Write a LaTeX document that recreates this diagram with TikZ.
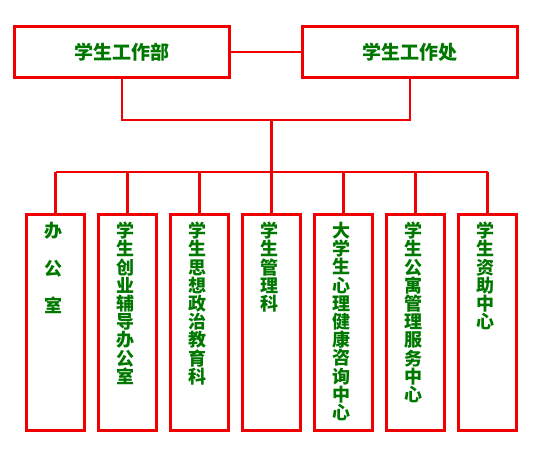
\documentclass[tikz,border=0pt]{standalone}
\usepackage{fontspec}
\newfontfamily\cjk{Noto Sans CJK SC}
\usetikzlibrary{positioning}
\definecolor{deptgreen}{RGB}{0,120,0}
\definecolor{linkred}{RGB}{240,0,0}

\begin{document}
\begin{tikzpicture}[x=1pt,y=-1pt,
  node distance=14pt,
  head/.style={draw=linkred,line width=3pt,outer sep=0pt,minimum width=215pt,minimum height=51pt,
    font=\cjk\bfseries\fontsize{19}{19}\selectfont,text=deptgreen},
  unit/.style={draw=linkred,line width=3pt,outer sep=0pt,minimum width=58pt,minimum height=216pt},
  vlbl/.style={anchor=north,align=center,inner sep=0pt,xshift=-2.5pt,yshift=-7.5pt,
    font=\cjk\bfseries\fontsize{18}{18.2}\selectfont,text=deptgreen},
  link/.style={draw=linkred,line width=2.2pt}
]
\useasboundingbox (0,0) rectangle (541,460);
% top level
\node[head] (bu) at (122,52) {\raisebox{-2.5pt}{学生工作部}};
\node[head,right=73pt of bu] (bc) {\raisebox{-2.5pt}{学生工作处}};
% units
\node[unit] (u1) at (55.5,322.5) {};
\node[unit,right=of u1] (u2) {};
\node[unit,right=of u2] (u3) {};
\node[unit,right=of u3] (u4) {};
\node[unit,right=of u4] (u5) {};
\node[unit,right=of u5] (u6) {};
\node[unit,right=of u6] (u7) {};
\node[vlbl] (t1) at (u1.north) {办\\[19.3pt]公\\[19.3pt]室};
\node[vlbl] (t2) at (u2.north) {学\\生\\创\\业\\辅\\导\\办\\公\\室};
\node[vlbl] (t3) at (u3.north) {学\\生\\思\\想\\政\\治\\教\\育\\科};
\node[vlbl] (t4) at (u4.north) {学\\生\\管\\理\\科};
\node[vlbl] (t5) at (u5.north) {大\\学\\生\\心\\理\\健\\康\\咨\\询\\中\\心};
\node[vlbl] (t6) at (u6.north) {学\\生\\公\\寓\\管\\理\\服\\务\\中\\心};
\node[vlbl] (t7) at (u7.north) {学\\生\\资\\助\\中\\心};

\coordinate (join) at (271.5,120);
\coordinate (bus) at (271.5,172);
\draw[link] (bu.east) -- (bc.west);
\draw[link] (bu.south) |- (join) -| (bc.south);
\draw[link] (join) -- (bus);
\draw[link] (u1.north |- bus) -- (u7.north |- bus);
\foreach \i in {1,...,7}
  \draw[link] (bus -| u\i.north) -- (u\i.north);
\end{tikzpicture}
\end{document}
